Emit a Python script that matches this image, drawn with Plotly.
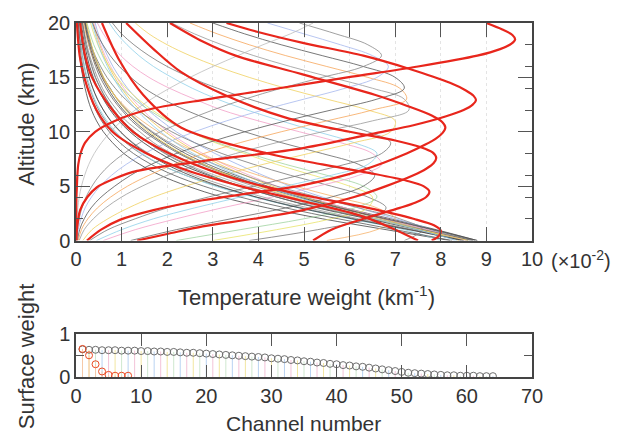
import plotly.graph_objects as go

# ---------------- data ----------------
ALT = list(range(21))  # altitude grid (km) for the thin channel curves

# thin temperature-weight curves (x in 1e-2 km^-1) at ALT levels
t01 = [8.8, 7.9, 6.9, 5.9, 5.0, 4.2, 3.5, 2.9, 2.4, 2.0, 1.65, 1.35, 1.1, 0.9, 0.75, 0.6, 0.5, 0.4, 0.33, 0.27, 0.22]
t02 = [8.7, 7.7, 6.6, 5.6, 4.7, 3.9, 3.2, 2.6, 2.1, 1.7, 1.4, 1.1, 0.9, 0.72, 0.58, 0.47, 0.38, 0.3, 0.24, 0.19, 0.15]
t03 = [8.6, 7.5, 6.4, 5.3, 4.4, 3.6, 2.9, 2.3, 1.85, 1.48, 1.18, 0.94, 0.75, 0.6, 0.48, 0.38, 0.3, 0.24, 0.19, 0.15, 0.12]
t04 = [8.5, 7.4, 6.2, 5.1, 4.1, 3.3, 2.6, 2.05, 1.6, 1.25, 0.98, 0.77, 0.6, 0.47, 0.37, 0.29, 0.23, 0.18, 0.14, 0.11, 0.09]
t05 = [8.4, 7.6, 6.7, 5.8, 5.0, 4.3, 3.7, 3.15, 2.7, 2.3, 1.95, 1.65, 1.4, 1.18, 1.0, 0.85, 0.72, 0.61, 0.52, 0.44, 0.37]
t06 = [8.3, 7.8, 7.0, 6.2, 5.4, 4.7, 4.1, 3.55, 3.05, 2.6, 2.2, 1.87, 1.58, 1.34, 1.13, 0.96, 0.81, 0.69, 0.58, 0.49, 0.42]
t07 = [8.75, 7.8, 6.75, 5.75, 4.85, 4.05, 3.35, 2.75, 2.25, 1.85, 1.5, 1.22, 1.0, 0.81, 0.66, 0.53, 0.43, 0.35, 0.28, 0.23, 0.18]
t08 = [8.65, 7.65, 6.5, 5.45, 4.55, 3.75, 3.05, 2.45, 1.98, 1.6, 1.28, 1.02, 0.82, 0.66, 0.53, 0.42, 0.34, 0.27, 0.21, 0.17, 0.13]
t09 = [8.55, 7.7, 6.8, 5.9, 5.1, 4.4, 3.8, 3.25, 2.78, 2.37, 2.02, 1.72, 1.46, 1.24, 1.05, 0.89, 0.76, 0.64, 0.54, 0.46, 0.39]
t10 = [8.45, 7.35, 6.1, 4.95, 3.95, 3.1, 2.4, 1.85, 1.42, 1.09, 0.84, 0.65, 0.5, 0.39, 0.3, 0.23, 0.18, 0.14, 0.11, 0.08, 0.06]
t11 = [8.2, 6.8, 5.4, 4.2, 3.2, 2.45, 1.85, 1.4, 1.05, 0.8, 0.6, 0.45, 0.34, 0.26, 0.2, 0.15, 0.11, 0.08, 0.06, 0.05, 0.04]
t12 = [8.0, 7.2, 6.0, 4.9, 3.9, 3.05, 2.4, 1.85, 1.45, 1.12, 0.87, 0.68, 0.53, 0.41, 0.32, 0.25, 0.19, 0.15, 0.12, 0.09, 0.07]
t13 = [7.2, 7.6, 7.1, 6.2, 5.3, 4.4, 3.7, 3.05, 2.5, 2.05, 1.68, 1.37, 1.12, 0.91, 0.74, 0.6, 0.49, 0.4, 0.32, 0.26, 0.21]
t14 = [5.5, 6.6, 7.0, 6.6, 5.7, 4.8, 4.0, 3.3, 2.7, 2.2, 1.8, 1.45, 1.15, 0.92, 0.73, 0.58, 0.46, 0.36, 0.28, 0.22, 0.17]
t15 = [3.8, 5.3, 6.4, 6.8, 6.4, 5.6, 4.7, 3.9, 3.2, 2.6, 2.1, 1.7, 1.35, 1.08, 0.86, 0.68, 0.54, 0.42, 0.33, 0.26, 0.2]
t16 = [3.0, 4.4, 5.6, 6.4, 6.5, 6.0, 5.2, 4.4, 3.7, 3.05, 2.5, 2.05, 1.67, 1.36, 1.1, 0.9, 0.73, 0.59, 0.48, 0.39, 0.32]
t17 = [2.2, 3.6, 5.0, 6.1, 6.6, 6.3, 5.5, 4.6, 3.8, 3.1, 2.5, 2.0, 1.6, 1.27, 1.0, 0.8, 0.63, 0.5, 0.39, 0.31, 0.24]
t18 = [1.2, 2.2, 3.4, 4.6, 5.6, 6.3, 6.55, 6.2, 5.4, 4.5, 3.7, 3.0, 2.4, 1.9, 1.5, 1.2, 0.95, 0.75, 0.59, 0.46, 0.36]
t19 = [0.6, 1.3, 2.2, 3.2, 4.3, 5.3, 6.2, 6.7, 6.5, 5.8, 4.9, 4.0, 3.2, 2.6, 2.05, 1.6, 1.25, 0.98, 0.77, 0.6, 0.47]
t20 = [0.45, 1.0, 1.7, 2.6, 3.6, 4.6, 5.6, 6.4, 6.6, 6.1, 5.3, 4.5, 3.75, 3.1, 2.55, 2.1, 1.7, 1.38, 1.12, 0.9, 0.73]
t21 = [0.3, 0.7, 1.3, 2.0, 2.9, 3.9, 4.9, 5.9, 6.7, 6.9, 6.4, 5.5, 4.6, 3.8, 3.1, 2.5, 2.0, 1.6, 1.27, 1.0, 0.8]
t22 = [0.15, 0.35, 0.7, 1.15, 1.7, 2.4, 3.2, 4.1, 5.1, 6.1, 6.9, 7.0, 6.4, 5.5, 4.6, 3.8, 3.1, 2.5, 2.0, 1.6, 1.3]
t23 = [0.07, 0.18, 0.38, 0.65, 1.0, 1.45, 2.0, 2.7, 3.5, 4.4, 5.4, 6.5, 7.3, 7.2, 6.5, 5.6, 4.7, 3.9, 3.2, 2.6, 2.1]
t24 = [0.05, 0.12, 0.26, 0.47, 0.76, 1.13, 1.6, 2.15, 2.8, 3.6, 4.5, 5.5, 6.5, 7.25, 7.1, 6.4, 5.5, 4.6, 3.8, 3.1, 2.5]
t25 = [0.03, 0.08, 0.18, 0.33, 0.55, 0.85, 1.2, 1.65, 2.2, 2.9, 3.7, 4.6, 5.6, 6.6, 7.2, 7.0, 6.3, 5.4, 4.5, 3.7, 3.0]
t26 = [0.02, 0.05, 0.11, 0.2, 0.34, 0.53, 0.78, 1.1, 1.5, 2.0, 2.6, 3.3, 4.1, 5.0, 5.9, 6.6, 6.85, 6.5, 5.8, 5.0, 4.2]
t27 = [0.01, 0.03, 0.07, 0.13, 0.22, 0.35, 0.52, 0.75, 1.05, 1.4, 1.85, 2.4, 3.0, 3.7, 4.5, 5.4, 6.3, 6.7, 6.4, 5.7, 4.9]
t28 = [0.0, 0.01, 0.02, 0.04, 0.07, 0.12, 0.19, 0.28, 0.4, 0.56, 0.76, 1.0, 1.3, 1.65, 2.05, 2.5, 3.0, 3.55, 4.1, 4.7, 5.2]
t29 = [8.8, 7.85, 6.8, 5.8, 4.9, 4.1, 3.4, 2.8, 2.3, 1.9, 1.55, 1.27, 1.04, 0.85, 0.7, 0.57, 0.46, 0.37, 0.3, 0.24, 0.2]
t30 = [8.7, 7.6, 6.45, 5.35, 4.4, 3.6, 2.95, 2.4, 1.95, 1.58, 1.28, 1.03, 0.83, 0.67, 0.54, 0.43, 0.35, 0.28, 0.22, 0.18, 0.14]
t31 = [8.6, 7.55, 6.55, 5.6, 4.75, 4.0, 3.35, 2.8, 2.32, 1.93, 1.6, 1.32, 1.09, 0.9, 0.74, 0.61, 0.5, 0.41, 0.34, 0.28, 0.23]
t32 = [8.5, 7.3, 6.05, 4.9, 3.95, 3.15, 2.5, 1.98, 1.56, 1.23, 0.97, 0.76, 0.6, 0.47, 0.37, 0.29, 0.23, 0.18, 0.14, 0.11, 0.09]
t33 = [8.35, 7.5, 6.55, 5.65, 4.85, 4.15, 3.55, 3.02, 2.57, 2.18, 1.85, 1.57, 1.33, 1.13, 0.96, 0.81, 0.69, 0.58, 0.49, 0.42, 0.35]
t34 = [8.25, 7.0, 5.75, 4.6, 3.6, 2.8, 2.15, 1.65, 1.26, 0.96, 0.73, 0.56, 0.43, 0.33, 0.25, 0.19, 0.15, 0.11, 0.09, 0.07, 0.05]

thin_colors = ["#555555", "#8a8a8a", "#333333", "#9a9a9a", "#f0c34a", "#9ab0e8", "#666666",
               "#aaaaaa", "#f4a6c6", "#777777", "#444444", "#8fd6e6", "#888888", "#f6b26b",
               "#777777", "#e9e36a", "#9fd39f", "#666666", "#f3a0c8", "#8fd0ea", "#777777",
               "#f0d060", "#999999", "#f6a65b", "#555555", "#a6b8ee", "#888888", "#bdbdbd",
               "#4a4a4a", "#6a6a6a", "#f2d35a", "#3c3c3c", "#8dc9e6", "#5a5a5a"]

# highlighted (red) channel weighting functions
red1_alt = [0, 4, 5, 6, 7, 8, 9, 10, 11, 12, 13, 14, 15, 16, 17, 17.6, 18.1, 18.5, 18.9, 19.4, 20]
red1_x = [0, 0.01, 0.02, 0.03, 0.05, 0.1, 0.2, 0.42, 0.85, 1.55, 2.9, 4.45, 5.95, 7.5, 8.8, 9.3, 9.55, 9.63, 9.57, 9.35, 9.0]
red2_alt = [0, 1, 2, 2.8, 4, 4.9, 5.7, 6.4, 7.3, 8.5, 9.9, 10.6, 11.4, 12.0, 12.5, 12.9, 13.3, 13.8, 14.5, 15.8, 17, 18.2, 19.2, 20]
red2_x = [0.01, 0.02, 0.05, 0.09, 0.25, 0.46, 0.85, 1.34, 2.78, 4.98, 6.6, 7.4, 8.1, 8.5, 8.7, 8.77, 8.72, 8.55, 8.2, 7.3, 6.3, 4.95, 3.97, 3.3]
red3_alt = [0, 1, 1.9, 2.8, 3.7, 4.4, 5.1, 6.5, 8, 8.8, 9.4, 9.9, 10.4, 10.9, 11.5, 12.4, 13.4, 15.3, 17, 18.3, 20]
red3_x = [0.24, 0.55, 0.96, 1.7, 2.78, 3.9, 4.98, 6.3, 7.25, 7.65, 7.9, 8.04, 8.1, 8.03, 7.8, 7.25, 6.55, 4.95, 3.5, 2.78, 2.06]
red4_alt = [0, 0.6, 1.3, 2.0, 2.8, 4, 5, 6, 6.6, 7.1, 7.6, 8.1, 8.6, 9.2, 10, 11.3, 13.4, 15.5, 17.6, 20]
red4_x = [1.34, 2.0, 2.78, 3.9, 4.98, 6.1, 6.8, 7.4, 7.68, 7.84, 7.9, 7.82, 7.55, 7.0, 6.0, 4.6, 3.25, 2.3, 1.7, 1.1]
red5_alt = [0, 1, 2, 3, 3.5, 4, 4.5, 5, 5.5, 6.2, 7, 8, 10.4, 13.4, 16.5, 20]
red5_x = [5.2, 5.6, 6.3, 7.1, 7.45, 7.68, 7.75, 7.62, 7.25, 6.45, 5.4, 4.2, 2.3, 1.47, 0.96, 0.57]
red6_alt = [0, 0.4, 0.9, 1.4, 2, 3, 4, 5, 6, 8, 10, 12, 15, 17, 20]
red6_x = [7.8, 7.95, 8.0, 7.85, 7.4, 6.4, 5.2, 4.1, 3.25, 2.05, 1.25, 0.8, 0.35, 0.2, 0.09]
red7_alt = [0, 1, 2.2, 3.7, 5, 6.5, 8, 10, 12, 15, 17, 20]
red7_x = [7.5, 7.0, 6.3, 4.9, 3.6, 2.4, 1.55, 0.8, 0.45, 0.18, 0.08, 0.02]

# surface weights per channel
channels = list(range(1, 65))
surface_gray = [0.65, 0.64, 0.64, 0.63, 0.63, 0.63, 0.62, 0.62, 0.62, 0.61,
                0.61, 0.60, 0.60, 0.59, 0.59, 0.58, 0.57, 0.57, 0.56, 0.55,
                0.54, 0.53, 0.52, 0.51, 0.50, 0.49, 0.48, 0.47, 0.46, 0.44,
                0.43, 0.42, 0.40, 0.39, 0.37, 0.36, 0.34, 0.33, 0.31, 0.30,
                0.28, 0.27, 0.25, 0.24, 0.22, 0.20, 0.18, 0.16, 0.14, 0.12,
                0.10, 0.09, 0.08, 0.07, 0.06, 0.05, 0.04, 0.04, 0.03, 0.03,
                0.03, 0.02, 0.02, 0.02]
red_channels = [1, 2, 3, 4, 5, 6, 7, 8]
surface_red = [0.66, 0.51, 0.30, 0.13, 0.05, 0.03, 0.03, 0.03]

x1_ticks = list(range(0, 11))
y1_ticks = [0, 5, 10, 15, 20]
y1_minor = [2, 4, 6, 8, 12, 14, 16, 18]
x2_ticks = list(range(0, 71, 10))
y2_ticks = [0, 1]

# ---------------- figure ----------------
FONT = "Liberation Sans, Arial, sans-serif"
TXT = "#333333"
RED = "#e8261c"
AX = "#444444"

fig = go.Figure()

thin = [t01, t02, t03, t04, t05, t06, t07, t08, t09, t10, t11, t12, t13, t14, t15, t16, t17,
        t18, t19, t20, t21, t22, t23, t24, t25, t26, t27, t28, t29, t30, t31, t32, t33, t34]
for xs, col in zip(thin, thin_colors):
    fig.add_trace(go.Scatter(x=xs, y=ALT, mode="lines", xaxis="x", yaxis="y",
                             line=dict(color=col, width=0.8, shape="spline", smoothing=1.0),
                             hoverinfo="skip", showlegend=False))

for a, xs in [(red1_alt, red1_x), (red2_alt, red2_x), (red3_alt, red3_x), (red4_alt, red4_x),
              (red5_alt, red5_x), (red6_alt, red6_x), (red7_alt, red7_x)]:
    fig.add_trace(go.Scatter(x=xs, y=a, mode="lines", xaxis="x", yaxis="y",
                             line=dict(color=RED, width=2.2, shape="spline", smoothing=0.9),
                             hoverinfo="skip", showlegend=False))

# stems in the surface-weight panel
stem_cols = ["#b9d3f2", "#f3c3d8", "#f2e6a0", "#cfe8cf"]
for k, sc in enumerate(stem_cols):
    sx, sy = [], []
    for ch, v in zip(channels, surface_gray):
        if ch % len(stem_cols) == k:
            sx += [ch, ch, None]
            sy += [0, v, None]
    fig.add_trace(go.Scatter(x=sx, y=sy, mode="lines", xaxis="x2", yaxis="y2",
                             line=dict(color=sc, width=1), hoverinfo="skip", showlegend=False))
rx, ry = [], []
for ch, v in zip(red_channels, surface_red):
    rx += [ch, ch, None]
    ry += [0, v, None]
fig.add_trace(go.Scatter(x=rx, y=ry, mode="lines", xaxis="x2", yaxis="y2",
                         line=dict(color="#f6c9a8", width=1), hoverinfo="skip", showlegend=False))

fig.add_trace(go.Scatter(x=channels, y=surface_gray, mode="markers", xaxis="x2", yaxis="y2",
                         marker=dict(symbol="circle-open", size=7, color="#6e6e6e", line=dict(width=1)),
                         hoverinfo="skip", showlegend=False))
fig.add_trace(go.Scatter(x=red_channels, y=surface_red, mode="markers", xaxis="x2", yaxis="y2",
                         marker=dict(symbol="circle-open", size=7, color="#ea4a22", line=dict(width=1)),
                         hoverinfo="skip", showlegend=False))

tickfont = dict(family=FONT, size=20, color=TXT)
common = dict(showline=True, linecolor=AX, linewidth=1.5, mirror="ticks", ticks="inside",
              tickcolor="#555555", tickwidth=1, zeroline=False, tickfont=tickfont, tickmode="array")

fig.update_layout(
    width=626, height=437,
    margin=dict(l=76, r=94, t=19, b=60),
    paper_bgcolor="white", plot_bgcolor="white",
    font=dict(family=FONT, color=TXT),
    xaxis=dict(domain=[0, 1], anchor="y", range=[0, 10], tickvals=x1_ticks,
               ticktext=[str(v) for v in x1_ticks], ticklen=14,
               showgrid=True, gridcolor="#e4e4e4", griddash="dot", gridwidth=1, **common),
    yaxis=dict(domain=[0.3855, 1], anchor="x", range=[0, 20], tickvals=y1_ticks,
               ticktext=[str(v) for v in y1_ticks], ticklen=14, showgrid=False,
               minor=dict(tickmode="array", tickvals=y1_minor, ticks="inside", ticklen=7,
                          tickcolor="#555555"),
               **common),
    xaxis2=dict(domain=[0, 1], anchor="y2", range=[0, 70], tickvals=x2_ticks,
                ticktext=[str(v) for v in x2_ticks], ticklen=12, showgrid=False, **common),
    yaxis2=dict(domain=[0, 0.1201], anchor="x2", range=[0, 1], tickvals=y2_ticks,
                ticktext=[str(v) for v in y2_ticks], ticklen=8, showgrid=False,
                minor=dict(tickmode="array", tickvals=[0.5], ticks="inside", ticklen=8,
                           tickcolor="#555555"),
                **common),
)

def px_x(p):
    return (p - 76) / 456.0

def px_y(p):
    return (377 - p) / 358.0

ann = [
    dict(text="(×10<sup>-2</sup>)", x=px_x(549), y=px_y(258), xanchor="left", yanchor="middle",
         font=dict(family=FONT, size=20, color=TXT)),
    dict(text="Temperature weight (km<sup>-1</sup>)", x=px_x(306), y=px_y(295),
         xanchor="center", yanchor="middle", font=dict(family=FONT, size=22, color=TXT)),
    dict(text="Altitude (km)", x=px_x(27), y=px_y(122), textangle=-90,
         xanchor="center", yanchor="middle", font=dict(family=FONT, size=22, color=TXT)),
    dict(text="Surface weight", x=px_x(26), y=px_y(356), textangle=-90,
         xanchor="center", yanchor="middle", font=dict(family=FONT, size=22, color=TXT)),
    dict(text="Channel number", x=px_x(303), y=px_y(424),
         xanchor="center", yanchor="middle", font=dict(family=FONT, size=21, color=TXT)),
]
for a in ann:
    a.update(xref="paper", yref="paper", showarrow=False)
fig.update_layout(annotations=ann)

fig.write_html("out.html")
